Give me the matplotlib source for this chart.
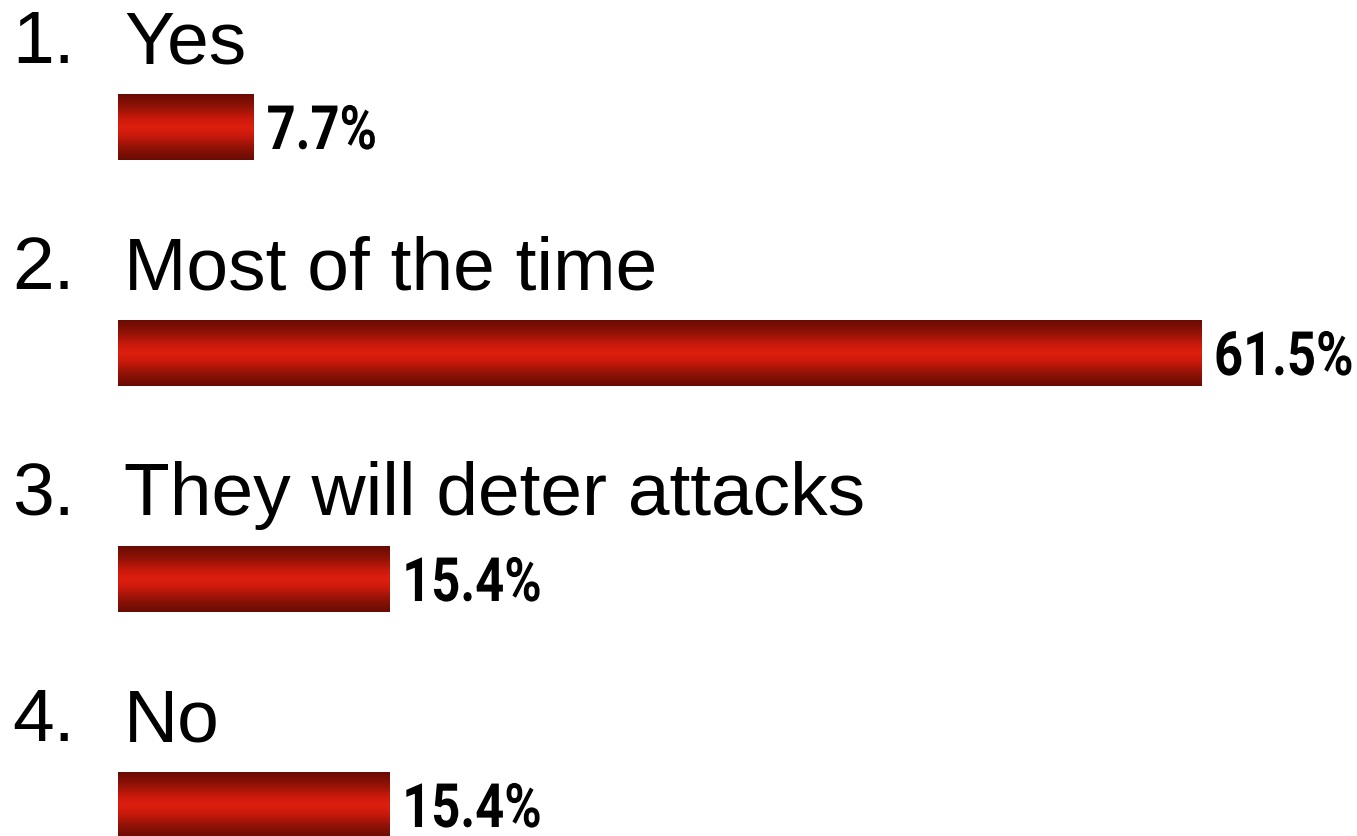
import numpy as np
import matplotlib.pyplot as plt
from matplotlib.colors import LinearSegmentedColormap
from matplotlib.patheffects import AbstractPathEffect
from matplotlib.transforms import Affine2D

# poll answers and their shares (%)
numbers = ["1.", "2.", "3.", "4."]
answers = ["Yes", "Most of the time", "They will deter attacks", "No"]
shares = [7.7, 61.5, 15.4, 15.4]
value_labels = ["7.7%", "61.5%", "15.4%", "15.4%"]


class Squeeze(AbstractPathEffect):
    """Narrow the glyphs horizontally around a fixed x (display px)."""

    def __init__(self, sx, x0):
        super().__init__()
        self.sx, self.x0 = sx, x0

    def draw_path(self, renderer, gc, tpath, affine, rgbFace=None):
        t = affine + Affine2D().translate(-self.x0, 0).scale(self.sx, 1).translate(self.x0, 0)
        renderer.draw_path(gc, tpath, t, rgbFace)


W, H = 1357, 837
fig = plt.figure(figsize=(W / 100, H / 100), dpi=100)
ax = fig.add_axes([0, 0, 1, 1])

# 1% of share -> ~17.6 px, bars start 118 px from the left
px_per_pct = 17.61
x0_px = 118
ax.set_xlim(-x0_px / px_per_pct, (W - x0_px) / px_per_pct)
ax.set_ylim(H, 0)
ax.axis("off")

row_step = 226
first_center = 128
bar_h = 66
centers = [first_center + i * row_step for i in range(len(shares))]

# red bar shading: dark edges, bright middle
shade = LinearSegmentedColormap.from_list(
    "barshade",
    [(0.0, "#680b03"), (0.18, "#8f1206"), (0.38, "#cc1a0c"), (0.5, "#dd1f0f"),
     (0.62, "#cc1a0c"), (0.82, "#8f1206"), (1.0, "#680b03")])
grad = np.linspace(0, 1, 256).reshape(-1, 1)

bars = ax.barh(centers, shares, height=bar_h, color="none", edgecolor="none")
for b in bars:
    x, y, w, h = b.get_x(), b.get_y(), b.get_width(), b.get_height()
    ax.imshow(grad, cmap=shade, extent=(x, x + w, y + h, y),
              aspect="auto", interpolation="bilinear", zorder=2)

label_font = ["Liberation Sans", "Arial", "DejaVu Sans"]

for num, ans, c in zip(numbers, answers, centers):
    ax.text(12 / px_per_pct - x0_px / px_per_pct, c - 65, num,
            fontsize=54, family=label_font, va="baseline", ha="left")
    ax.text(124 / px_per_pct - x0_px / px_per_pct, c - 65, ans,
            fontsize=54, family=label_font, va="baseline", ha="left")

# percentages in a narrow bold face
for b, lab in zip(bars, value_labels):
    tx = b.get_width() + 13 / px_per_pct
    ty = b.get_y() + b.get_height() / 2 + 22
    x_disp = ax.transData.transform((tx, ty))[0]
    ax.text(tx, ty, lab, fontsize=44, fontweight="bold",
            family=["Roboto", "DejaVu Sans"], va="baseline", ha="left",
            path_effects=[Squeeze(0.83, x_disp)])

fig.savefig("out.png", dpi=100, facecolor="white")
